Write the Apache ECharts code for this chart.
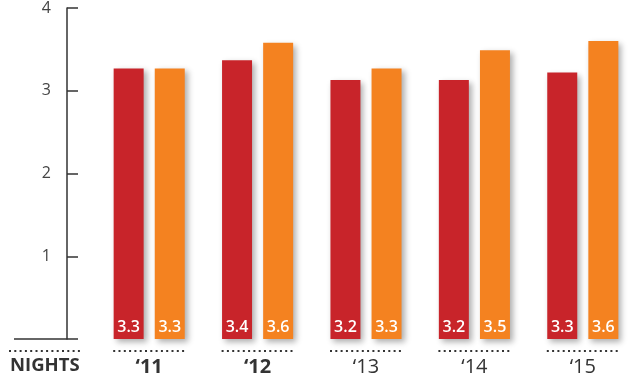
<!DOCTYPE html>
<html>
<head>
<meta charset="utf-8">
<script src="https://cdn.jsdelivr.net/npm/echarts@6/dist/echarts.min.js"></script>
<style>
  html, body { margin: 0; padding: 0; background: #fff; }
  #chart { width: 644px; height: 378px; }
</style>
</head>
<body>
<div id="chart"></div>
<script>
// data
var years = ['11', '12', '13', '14', '15'];
var boldYears = ['11', '12'];
var redValues = [3.27, 3.37, 3.13, 3.13, 3.22];
var orangeValues = [3.27, 3.58, 3.27, 3.49, 3.60];
var redLabels = ['3.3', '3.4', '3.2', '3.2', '3.3'];
var orangeLabels = ['3.3', '3.6', '3.3', '3.5', '3.6'];
var yTicks = [0, 1, 2, 3, 4];

var RED = '#C8242A';
var ORANGE = '#F48220';
var FONT = '"Open Sans", "DejaVu Sans", sans-serif';

var myChart = echarts.init(document.getElementById('chart'));

function barSeries(values, labels, color) {
    return {
        type: 'bar',
        data: values,
        barWidth: 30,
        barGap: '37%',
        z: 3,
        itemStyle: {
            color: color,
            shadowColor: 'rgba(0,0,0,0.32)',
            shadowBlur: 6,
            shadowOffsetX: 3,
            shadowOffsetY: 3
        },
        label: {
            show: true,
            position: 'insideBottom',
            distance: 4,
            color: '#fff',
            fontSize: 16,
            fontWeight: 600,
            fontFamily: FONT,
            formatter: function (p) { return labels[p.dataIndex]; }
        }
    };
}

var option = {
    animation: false,
    grid: { left: 95, right: 7, top: 7, bottom: 39 },
    xAxis: {
        type: 'category',
        data: years,
        axisLine: { show: false },
        axisTick: { show: false },
        axisLabel: {
            margin: 18,
            formatter: function (v) {
                return boldYears.indexOf(v) >= 0 ? '{b|\u2018' + v + '}' : '{n|\u2018' + v + '}';
            },
            rich: {
                b: { fontSize: 20, fontWeight: 'bold', color: '#333', fontFamily: FONT },
                n: { fontSize: 20, color: '#333', fontFamily: FONT }
            }
        }
    },
    yAxis: {
        type: 'value',
        min: yTicks[0],
        max: yTicks[yTicks.length - 1],
        interval: 1,
        offset: 28,
        axisLine: { show: true, lineStyle: { color: '#333', width: 1.5 } },
        axisTick: { show: true, inside: true, length: 11, lineStyle: { color: '#333', width: 1.5 } },
        splitLine: { show: false },
        axisLabel: {
            margin: 16,
            color: '#444',
            fontSize: 16,
            fontFamily: FONT,
            formatter: function (v) { return v === 0 ? '' : String(v); }
        }
    },
    series: [
        barSeries(redValues, redLabels, RED),
        barSeries(orangeValues, orangeLabels, ORANGE),
        {
            // dotted rule under each pair of bars
            type: 'custom',
            clip: false,
            silent: true,
            data: years.map(function (y, i) { return [i, 0]; }),
            renderItem: function (params, api) {
                var p = api.coord([api.value(0), 0]);
                var half = 36;
                return {
                    type: 'line',
                    shape: { x1: p[0] - half, y1: p[1] + 12, x2: p[0] + half, y2: p[1] + 12 },
                    style: { stroke: '#333', lineWidth: 2, lineDash: [2, 3.3] }
                };
            }
        }
    ],
    graphic: [
        {
            type: 'line',
            shape: { x1: 14, y1: 339, x2: 67, y2: 339 },
            style: { stroke: '#333', lineWidth: 1.5 }
        },
        {
            type: 'line',
            shape: { x1: 9, y1: 351, x2: 81, y2: 351 },
            style: { stroke: '#333', lineWidth: 2, lineDash: [2, 3.3] }
        },
        {
            type: 'text',
            left: 10,
            top: 356,
            style: { text: 'NIGHTS', fontSize: 18.5, fontWeight: 'bold', fill: '#333', fontFamily: FONT }
        }
    ]
};

myChart.setOption(option);
window.addEventListener('resize', function () {
    myChart.resize();
});
</script>
</body>
</html>
